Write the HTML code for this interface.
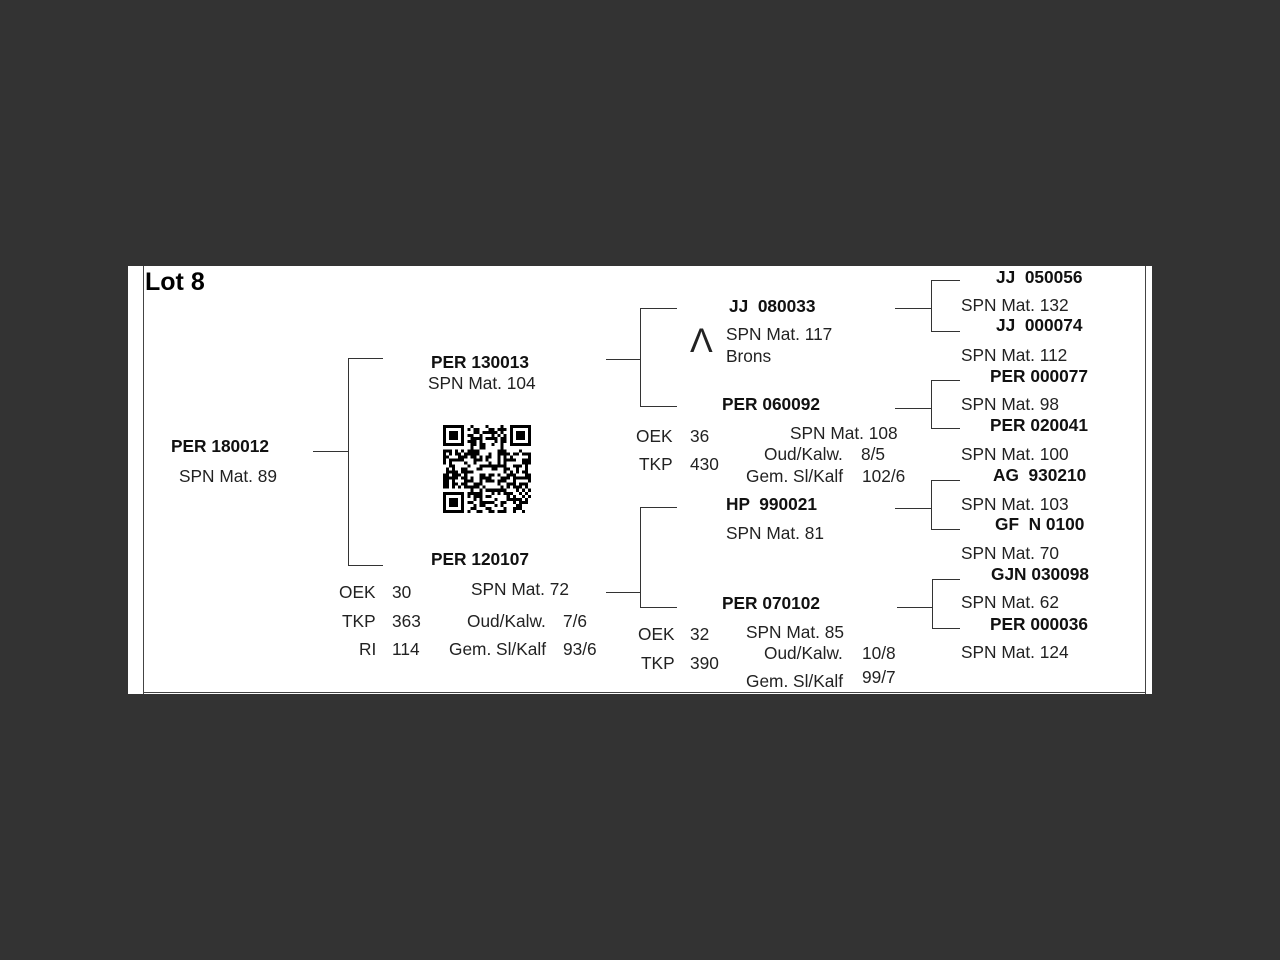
<!DOCTYPE html>
<html><head><meta charset="utf-8"><style>
html,body{margin:0;padding:0;background:#333;width:1280px;height:960px;overflow:hidden}
#p{position:absolute;left:128px;top:266px;width:1024px;height:428px;background:#fff}
.t{position:absolute;font-family:"Liberation Sans",Arial,sans-serif;font-size:17.3px;line-height:18px;color:#222;white-space:pre}
.b{font-weight:bold;color:#111}
.h{position:absolute;height:1px;background:#333}
.v{position:absolute;width:1px;background:#333}
</style></head><body>
<div id="p"></div>
<div class="v" style="left:143px;top:266px;height:428px;background:#444"></div>
<div class="v" style="left:1145px;top:266px;height:428px;background:#444"></div>
<div class="h" style="left:143px;top:692px;width:1003px;background:#444"></div>

<div class="t b" style="left:145px;top:268px;font-size:25px;line-height:28px;color:#000">Lot 8</div>

<div class="t b" style="left:171px;top:437px">PER 180012</div>
<div class="t" style="left:179px;top:467px">SPN Mat. 89</div>

<div class="t b" style="left:431px;top:353px">PER 130013</div>
<div class="t" style="left:428px;top:374px">SPN Mat. 104</div>

<div class="t b" style="left:431px;top:550px">PER 120107</div>
<div class="t" style="left:339px;top:583px">OEK</div><div class="t" style="left:392px;top:583px">30</div>
<div class="t" style="left:471px;top:580px">SPN Mat. 72</div>
<div class="t" style="left:342px;top:612px">TKP</div><div class="t" style="left:392px;top:612px">363</div>
<div class="t" style="left:467px;top:612px">Oud/Kalw.</div>
<div class="t" style="left:563px;top:612px">7/6</div>
<div class="t" style="left:359px;top:640px">RI</div><div class="t" style="left:392px;top:640px">114</div>
<div class="t" style="left:449px;top:640px">Gem. Sl/Kalf</div>
<div class="t" style="left:563px;top:640px">93/6</div>

<div class="t b" style="left:729px;top:297px">JJ  080033</div>
<div class="t" style="left:690px;top:323px;font-size:34px;line-height:36px">&#923;</div>
<div class="t" style="left:726px;top:325px">SPN Mat. 117</div>
<div class="t" style="left:726px;top:347px">Brons</div>

<div class="t b" style="left:722px;top:395px">PER 060092</div>
<div class="t" style="left:636px;top:427px">OEK</div><div class="t" style="left:690px;top:427px">36</div>
<div class="t" style="left:790px;top:424px">SPN Mat. 108</div>
<div class="t" style="left:639px;top:455px">TKP</div><div class="t" style="left:690px;top:455px">430</div>
<div class="t" style="left:764px;top:445px">Oud/Kalw.</div>
<div class="t" style="left:861px;top:445px">8/5</div>
<div class="t" style="left:746px;top:467px">Gem. Sl/Kalf</div>
<div class="t" style="left:862px;top:467px">102/6</div>

<div class="t b" style="left:726px;top:495px">HP  990021</div>
<div class="t" style="left:726px;top:524px">SPN Mat. 81</div>

<div class="t b" style="left:722px;top:594px">PER 070102</div>
<div class="t" style="left:638px;top:625px">OEK</div><div class="t" style="left:690px;top:625px">32</div>
<div class="t" style="left:746px;top:623px">SPN Mat. 85</div>
<div class="t" style="left:641px;top:654px">TKP</div><div class="t" style="left:690px;top:654px">390</div>
<div class="t" style="left:764px;top:644px">Oud/Kalw.</div>
<div class="t" style="left:862px;top:644px">10/8</div>
<div class="t" style="left:746px;top:672px">Gem. Sl/Kalf</div>
<div class="t" style="left:862px;top:668px">99/7</div>

<div class="t b" style="left:996px;top:268px">JJ  050056</div>
<div class="t" style="left:961px;top:296px">SPN Mat. 132</div>
<div class="t b" style="left:996px;top:316px">JJ  000074</div>
<div class="t" style="left:961px;top:346px">SPN Mat. 112</div>
<div class="t b" style="left:990px;top:367px">PER 000077</div>
<div class="t" style="left:961px;top:395px">SPN Mat. 98</div>
<div class="t b" style="left:990px;top:416px">PER 020041</div>
<div class="t" style="left:961px;top:445px">SPN Mat. 100</div>
<div class="t b" style="left:993px;top:466px">AG  930210</div>
<div class="t" style="left:961px;top:495px">SPN Mat. 103</div>
<div class="t b" style="left:995px;top:515px">GF  N 0100</div>
<div class="t" style="left:961px;top:544px">SPN Mat. 70</div>
<div class="t b" style="left:991px;top:565px">GJN 030098</div>
<div class="t" style="left:961px;top:593px">SPN Mat. 62</div>
<div class="t b" style="left:990px;top:615px">PER 000036</div>
<div class="t" style="left:961px;top:643px">SPN Mat. 124</div>

<!-- connectors -->
<div class="h" style="left:313px;top:451px;width:35px"></div>
<div class="v" style="left:348px;top:358px;height:208px"></div>
<div class="h" style="left:348px;top:358px;width:35px"></div>
<div class="h" style="left:348px;top:565px;width:35px"></div>

<div class="h" style="left:606px;top:359px;width:34px"></div>
<div class="v" style="left:640px;top:308px;height:99px"></div>
<div class="h" style="left:640px;top:308px;width:37px"></div>
<div class="h" style="left:640px;top:406px;width:37px"></div>

<div class="h" style="left:606px;top:592px;width:34px"></div>
<div class="v" style="left:640px;top:507px;height:101px"></div>
<div class="h" style="left:640px;top:507px;width:37px"></div>
<div class="h" style="left:640px;top:607px;width:37px"></div>

<div class="h" style="left:895px;top:308px;width:36px"></div>
<div class="v" style="left:931px;top:280px;height:51px"></div>
<div class="h" style="left:931px;top:280px;width:29px"></div>
<div class="h" style="left:931px;top:331px;width:29px"></div>

<div class="h" style="left:895px;top:408px;width:36px"></div>
<div class="v" style="left:931px;top:380px;height:49px"></div>
<div class="h" style="left:931px;top:380px;width:29px"></div>
<div class="h" style="left:931px;top:428px;width:29px"></div>

<div class="h" style="left:895px;top:508px;width:36px"></div>
<div class="v" style="left:931px;top:480px;height:50px"></div>
<div class="h" style="left:931px;top:480px;width:29px"></div>
<div class="h" style="left:931px;top:529px;width:29px"></div>

<div class="h" style="left:897px;top:607px;width:35px"></div>
<div class="v" style="left:932px;top:579px;height:50px"></div>
<div class="h" style="left:932px;top:579px;width:28px"></div>
<div class="h" style="left:932px;top:628px;width:28px"></div>

<svg id="qr" style="position:absolute;left:443px;top:425px" width="88" height="88" viewBox="0 0 29 29" shape-rendering="crispEdges">
<g fill="#000">
<path d="M0 0h7v7h-7zM1 1v5h5v-5zM2 2h3v3h-3z" fill-rule="evenodd"/>
<path d="M22 0h7v7h-7zM23 1v5h5v-5zM24 2h3v3h-3z" fill-rule="evenodd"/>
<path d="M0 22h7v7h-7zM1 23v5h5v-5zM2 24h3v3h-3z" fill-rule="evenodd"/>
</g>
<g id="m" fill="#000"></g>
</svg>
<script>
(function(){var s=12345,g=document.getElementById('m'),h='';
function r(){s=(s*1103515245+12345)&0x7fffffff;return s/0x7fffffff;}
for(var y=0;y<29;y++)for(var x=0;x<29;x++){
if((x<8&&y<8)||(x>20&&y<8)||(x<8&&y>20))continue;
if(r()<0.52)h+='<rect x="'+x+'" y="'+y+'" width="1" height="1"/>';}
g.innerHTML=h;})();
</script>
</body></html>
